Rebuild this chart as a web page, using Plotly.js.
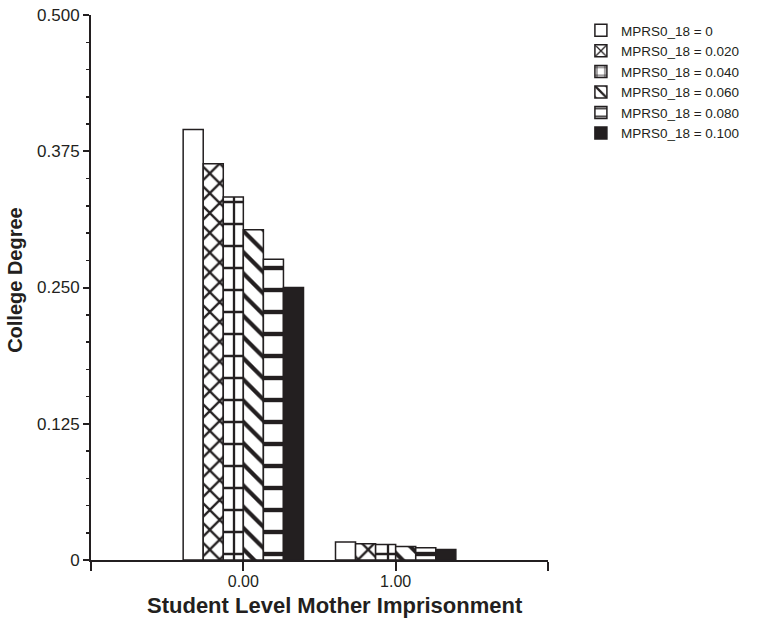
<!DOCTYPE html>
<html>
<head>
<meta charset="utf-8">
<script src="https://cdn.plot.ly/plotly-3.0.1.min.js"></script>
<style>html,body{margin:0;padding:0;background:#fff;}#chart{width:768px;height:628px;}</style>
</head>
<body>
<div id="chart"></div>
<script>
// Data
const categories = [0, 1];
const tickLabelsX = ['', '0.00', '1.00', ''];
const seriesNames = ['MPRS0_18 = 0', 'MPRS0_18 = 0.020', 'MPRS0_18 = 0.040', 'MPRS0_18 = 0.060', 'MPRS0_18 = 0.080', 'MPRS0_18 = 0.100'];
const s0 = [0.395, 0.0165];
const s020 = [0.3635, 0.0150];
const s040 = [0.333, 0.0142];
const s060 = [0.303, 0.0125];
const s080 = [0.276, 0.0112];
const s100 = [0.250, 0.0097];
const yTickVals = [0, 0.125, 0.25, 0.375, 0.5];
const yTickText = ['0', '0.125', '0.250', '0.375', '0.500'];
const xTitle = 'Student Level Mother Imprisonment';
const yTitle = 'College Degree';

const seriesValues = [s0, s020, s040, s060, s080, s100];
const ink = '#231f20';
const patterns = [
  {shape: ''},
  {shape: 'x', size: 14, solidity: 0.3, fgcolor: ink, bgcolor: '#ffffff', fgopacity: 1, fillmode: 'replace'},
  {shape: '+', size: 22, solidity: 0.2, fgcolor: ink, bgcolor: '#ffffff', fgopacity: 1, fillmode: 'replace'},
  {shape: '\\', size: 15, solidity: 0.28, fgcolor: ink, bgcolor: '#ffffff', fgopacity: 1, fillmode: 'replace'},
  {shape: '-', size: 22, solidity: 0.2, fgcolor: ink, bgcolor: '#ffffff', fgopacity: 1, fillmode: 'replace'},
  {shape: ''}
];
const fills = ['#ffffff', '#ffffff', '#ffffff', '#ffffff', '#ffffff', ink];

const traces = seriesNames.map((n, i) => ({
  type: 'bar',
  name: n,
  x: categories,
  y: seriesValues[i],
  marker: {
    color: fills[i],
    line: {color: ink, width: 1.5},
    pattern: patterns[i]
  }
}));

const layout = {
  width: 768, height: 628,
  margin: {l: 91, r: 220, t: 15, b: 68, pad: 0},
  paper_bgcolor: '#ffffff', plot_bgcolor: '#ffffff',
  font: {family: 'Liberation Sans, Arial, sans-serif', color: ink, size: 14},
  barmode: 'group',
  bargap: 0.21,
  bargroupgap: 0,
  showlegend: true,
  legend: {
    x: 1.072, xanchor: 'left', y: 1.0, yanchor: 'top',
    font: {size: 13.5, color: ink},
    bgcolor: 'rgba(0,0,0,0)', borderwidth: 0,
    tracegroupgap: 0
  },
  xaxis: {
    range: [-1, 2],
    tickvals: [-1, 0, 1, 2],
    ticktext: tickLabelsX,
    ticks: 'outside', ticklen: 9, tickwidth: 2, tickcolor: ink,
    ticklabelstandoff: -3,
    showline: true, linewidth: 2, linecolor: ink,
    showgrid: false, zeroline: false,
    tickfont: {size: 16, color: ink}
  },
  yaxis: {
    range: [0, 0.5],
    tickvals: yTickVals,
    ticktext: yTickText,
    ticks: 'outside', ticklen: 6, tickwidth: 2, tickcolor: ink,
    minor: {dtick: 0.025, ticks: 'outside', ticklen: 3, tickwidth: 1.5, tickcolor: ink},
    showline: true, linewidth: 2, linecolor: ink,
    showgrid: false, zeroline: false,
    tickfont: {size: 17, color: ink}
  },
  annotations: [
    {text: '<b>' + xTitle + '</b>', xref: 'paper', yref: 'paper', x: 0.533, y: -0.0844,
     xanchor: 'center', yanchor: 'middle', showarrow: false, font: {size: 22, color: ink}},
    {text: '<b>' + yTitle + '</b>', xref: 'paper', yref: 'paper', x: -0.1663, y: 0.514,
     xanchor: 'center', yanchor: 'middle', textangle: -90, showarrow: false, font: {size: 20, color: ink}}
  ]
};

Plotly.newPlot('chart', traces, layout, {displayModeBar: false, staticPlot: true});
</script>
</body>
</html>
